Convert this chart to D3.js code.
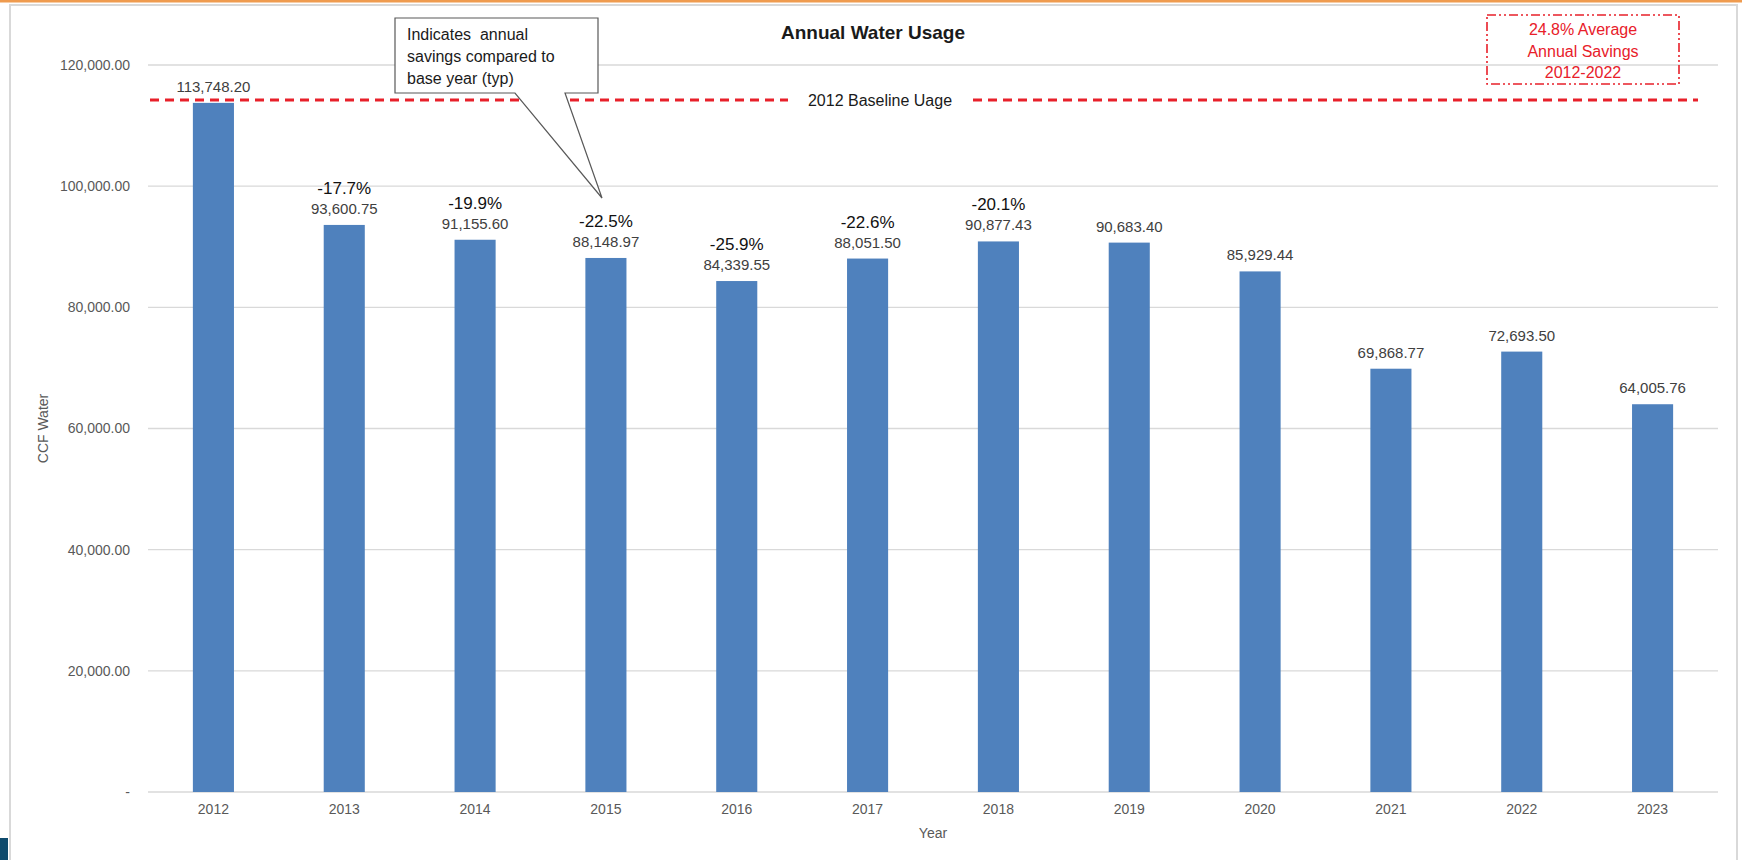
<!DOCTYPE html>
<html>
<head>
<meta charset="utf-8">
<script src="https://cdn.jsdelivr.net/npm/d3@7"></script>
<style>
    body { margin: 0; background: #fff; }
    text { font-family: "Liberation Sans", Arial, sans-serif; }
    .axis path { display: none; }
    .axis line { display: none; }
    .axis text { fill: #595959; font-size: 14px; }
</style>
</head>
<body>
<div id="viewportContainer"></div>
<script>
/* --- ビューポート --- */
const viewport = {width: 1742, height: 860};
const margin = {top: 65, right: 24, bottom: 68, left: 148};

/* --- データ --- */
const years = ["2012", "2013", "2014", "2015", "2016", "2017", "2018", "2019", "2020", "2021", "2022", "2023"];
const usage = [113748.20, 93600.75, 91155.60, 88148.97, 84339.55, 88051.50, 90877.43, 90683.40, 85929.44, 69868.77, 72693.50, 64005.76];
const savingYears = ["2013", "2014", "2015", "2016", "2017", "2018"];
const savingLabels = ["-17.7%", "-19.9%", "-22.5%", "-25.9%", "-22.6%", "-20.1%"];
const yTicks = [0, 20000, 40000, 60000, 80000, 100000, 120000];
const boxLines = ["24.8% Average", "Annual Savings", "2012-2022"];
const calloutLines = ["Indicates  annual", "savings compared to", "base year (typ)"];

let svg, chartContainer, xScale, yScale;

let initViewport = function() {
    svg = d3.select("#viewportContainer")
        .append("svg")
        .attr("width", viewport.width)
        .attr("height", viewport.height);

    /*--- 枠 ---*/
    svg.append("rect")
        .attr("x", 10).attr("y", 5)
        .attr("width", 1727).attr("height", 870)
        .attr("fill", "#fff")
        .attr("stroke", "#d9d9d9")
        .attr("stroke-width", 2);

    svg.append("rect")
        .attr("x", 0).attr("y", 0)
        .attr("width", viewport.width).attr("height", 2.5)
        .attr("fill", "#ef9b4f");

    svg.append("rect")
        .attr("x", 0).attr("y", 838)
        .attr("width", 8).attr("height", 22)
        .attr("fill", "#0e4a6c");

    chartContainer = svg.append("g").attr("id", "chartContainer");
};

let initScales = function() {
    xScale = d3.scaleBand()
        .domain(years)
        .range([margin.left, viewport.width - margin.right])
        .paddingInner(0.686)
        .paddingOuter(0.343);

    yScale = d3.scaleLinear()
        .domain([0, 120000])
        .range([viewport.height - margin.bottom, margin.top]);
};

let drawAxes = function() {
    const x0 = margin.left, x1 = viewport.width - margin.right;

    /*--- グリッド ---*/
    chartContainer.append("g")
        .selectAll("line")
        .data(yTicks)
        .enter()
        .append("line")
        .attr("x1", x0).attr("x2", x1)
        .attr("y1", d => yScale(d)).attr("y2", d => yScale(d))
        .attr("stroke", "#d9d9d9")
        .attr("stroke-width", 1.3);

    const yAxis = d3.axisLeft(yScale)
        .tickValues(yTicks)
        .tickSize(0)
        .tickPadding(18)
        .tickFormat(d => d === 0 ? "-" : d3.format(",.2f")(d));

    chartContainer.append("g")
        .attr("class", "y axis")
        .attr("transform", "translate(" + x0 + ",0)")
        .call(yAxis);

    const xAxis = d3.axisBottom(xScale).tickSize(0).tickPadding(12);
    chartContainer.append("g")
        .attr("class", "x axis")
        .attr("transform", "translate(0," + yScale(0) + ")")
        .call(xAxis);

    /*--- 軸ラベル ---*/
    chartContainer.append("text")
        .attr("x", (x0 + x1) / 2)
        .attr("y", 838)
        .attr("text-anchor", "middle")
        .attr("fill", "#595959")
        .style("font-size", "14px")
        .text("Year");

    chartContainer.append("text")
        .attr("transform", "rotate(-90)")
        .attr("x", -(yScale(0) + yScale(120000)) / 2)
        .attr("y", 48)
        .attr("text-anchor", "middle")
        .attr("fill", "#595959")
        .style("font-size", "14px")
        .text("CCF Water");

    /*--- タイトル ---*/
    chartContainer.append("text")
        .attr("x", 873)
        .attr("y", 39)
        .attr("text-anchor", "middle")
        .attr("fill", "#1a1a1a")
        .style("font-size", "19px")
        .style("font-weight", "bold")
        .text("Annual Water Usage");
};

let drawCharts = function() {
    const data = years.map((y, i) => ({year: y, value: usage[i]}));

    chartContainer.append("g")
        .selectAll("rect")
        .data(data)
        .enter()
        .append("rect")
        .attr("x", d => xScale(d.year))
        .attr("y", d => yScale(d.value))
        .attr("width", xScale.bandwidth())
        .attr("height", d => yScale(0) - yScale(d.value))
        .attr("fill", "#4f81bd");

    /*--- 値ラベル ---*/
    chartContainer.append("g")
        .selectAll("text")
        .data(data)
        .enter()
        .append("text")
        .attr("x", d => xScale(d.year) + xScale.bandwidth() / 2)
        .attr("y", d => yScale(d.value) - 11)
        .attr("text-anchor", "middle")
        .attr("fill", "#404040")
        .style("font-size", "15px")
        .text(d => d3.format(",.2f")(d.value));

    /*--- 削減率ラベル ---*/
    chartContainer.append("g")
        .selectAll("text")
        .data(savingYears)
        .enter()
        .append("text")
        .attr("x", d => xScale(d) + xScale.bandwidth() / 2)
        .attr("y", d => yScale(usage[years.indexOf(d)]) - 31)
        .attr("text-anchor", "middle")
        .attr("fill", "#111")
        .style("font-size", "17px")
        .text((d, i) => savingLabels[i]);
};

let drawAnnotations = function() {
    /*--- ベースライン ---*/
    const by = yScale(usage[0]) - 3;
    const segs = [[150, 788], [973, 1698]];
    chartContainer.append("g")
        .selectAll("line")
        .data(segs)
        .enter()
        .append("line")
        .attr("x1", d => d[0]).attr("x2", d => d[1])
        .attr("y1", by).attr("y2", by)
        .attr("stroke", "#e8202a")
        .attr("stroke-width", 3)
        .attr("stroke-dasharray", "9,6");

    chartContainer.append("text")
        .attr("x", 880)
        .attr("y", by + 6)
        .attr("text-anchor", "middle")
        .attr("fill", "#1a1a1a")
        .style("font-size", "16px")
        .text("2012 Baseline Uage");

    /*--- 平均削減率ボックス ---*/
    chartContainer.append("rect")
        .attr("x", 1487).attr("y", 15)
        .attr("width", 192).attr("height", 69)
        .attr("fill", "none")
        .attr("stroke", "#e8202a")
        .attr("stroke-width", 1.6)
        .attr("stroke-dasharray", "9,3,2,3,2,3");

    chartContainer.append("g")
        .selectAll("text")
        .data(boxLines)
        .enter()
        .append("text")
        .attr("x", 1583)
        .attr("y", (d, i) => 35 + i * 21.5)
        .attr("text-anchor", "middle")
        .attr("fill", "#e8202a")
        .style("font-size", "16px")
        .text(d => d);

    /*--- 吹き出し ---*/
    const callout = d3.path();
    callout.moveTo(395, 18);
    callout.lineTo(598, 18);
    callout.lineTo(598, 93);
    callout.lineTo(565, 93);
    callout.lineTo(602, 198);
    callout.lineTo(515, 93);
    callout.lineTo(395, 93);
    callout.closePath();

    chartContainer.append("path")
        .attr("d", callout.toString())
        .attr("fill", "#fff")
        .attr("stroke", "#595959")
        .attr("stroke-width", 1.2);

    chartContainer.append("g")
        .selectAll("text")
        .data(calloutLines)
        .enter()
        .append("text")
        .attr("x", 407)
        .attr("y", (d, i) => 40 + i * 22)
        .attr("fill", "#1a1a1a")
        .style("font-size", "16px")
        .style("white-space", "pre")
        .attr("xml:space", "preserve")
        .text(d => d);
};

initViewport();
initScales();
drawAxes();
drawCharts();
drawAnnotations();
</script>
</body>
</html>
